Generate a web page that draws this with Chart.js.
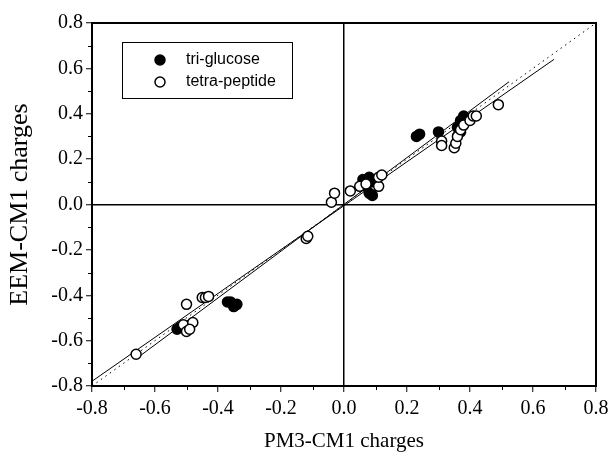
<!DOCTYPE html>
<html><head><meta charset="utf-8">
<script src="https://cdn.jsdelivr.net/npm/chart.js@4/dist/chart.umd.min.js"></script>
<style>html,body{margin:0;padding:0;background:#fff}#wrap{width:611px;height:455px}</style>
</head><body><div id="wrap"><canvas id="c" width="611" height="455"></canvas></div>
<script>
const seriesNames = ['tri-glucose', 'tetra-peptide'];
const triGlucoseX = [-0.53, -0.52, -0.37, -0.36, -0.35, -0.34, 0.06, 0.07, 0.08, 0.08, 0.09, 0.09, 0.23, 0.24, 0.30, 0.36, 0.37, 0.37, 0.38];
const triGlucoseY = [-0.55, -0.54, -0.43, -0.43, -0.45, -0.44, 0.11, 0.08, 0.12, 0.05, 0.04, 0.10, 0.30, 0.31, 0.32, 0.34, 0.32, 0.37, 0.39];
const tetraPeptideX = [-0.66, -0.51, -0.48, -0.50, -0.49, -0.50, -0.45, -0.44, -0.43, -0.12, -0.115, -0.04, -0.03, 0.02, 0.05, 0.07, 0.11, 0.11, 0.12, 0.31, 0.31, 0.35, 0.355, 0.36, 0.37, 0.38, 0.40, 0.41, 0.42, 0.49];
const tetraPeptideY = [-0.66, -0.53, -0.52, -0.56, -0.55, -0.44, -0.41, -0.41, -0.405, -0.15, -0.14, 0.01, 0.05, 0.06, 0.08, 0.09, 0.08, 0.12, 0.13, 0.28, 0.26, 0.25, 0.27, 0.30, 0.33, 0.35, 0.37, 0.39, 0.39, 0.44];
const fitLineX = [-0.8, 0.667];
const fitLineY = [-0.779, 0.640];
const fitLine2X = [-0.655, 0.524];
const fitLine2Y = [-0.675, 0.541];
const identityX = [-0.8, 0.8];
const identityY = [-0.8, 0.8];
const axisMin = -0.8, axisMax = 0.8, majorStep = 0.2, minorStep = 0.1;
const xTitle = 'PM3-CM1 charges';
const yTitle = 'EEM-CM1 charges';

const pts = (xs, ys) => xs.map((x, i) => ({x: x, y: ys[i]}));
const isZero = v => Math.abs(v) < 1e-9;
const serif = '"Liberation Serif", "Times New Roman", serif';

const framePlugin = {
  id: 'frame',
  afterDraw(chart) {
    const {ctx, chartArea: a, scales} = chart;
    ctx.save();
    ctx.strokeStyle = '#000';
    ctx.lineWidth = 2;
    ctx.strokeRect(a.left, a.top, a.right - a.left, a.bottom - a.top);
    // minor ticks
    ctx.lineWidth = 1;
    ctx.beginPath();
    for (let v = axisMin + minorStep; v < axisMax; v += majorStep) {
      const px = Math.round(scales.x.getPixelForValue(v)) + 0.5;
      ctx.moveTo(px, a.bottom); ctx.lineTo(px, a.bottom + 4);
      const py = Math.round(scales.y.getPixelForValue(v)) + 0.5;
      ctx.moveTo(a.left, py); ctx.lineTo(a.left - 4, py);
    }
    ctx.stroke();
    // legend
    const bx = 122, by = 42, bw = 170, bh = 56;
    ctx.lineWidth = 1;
    ctx.strokeRect(bx + 0.5, by + 0.5, bw, bh);
    ctx.font = '16px "Liberation Sans", Arial, sans-serif';
    ctx.textBaseline = 'middle';
    ctx.textAlign = 'left';
    const rows = [{ds: chart.data.datasets[1], y: by + 18}, {ds: chart.data.datasets[0], y: by + 40}];
    rows.forEach(r => {
      ctx.beginPath();
      ctx.arc(bx + 38, r.y, 5, 0, Math.PI * 2);
      ctx.fillStyle = r.ds.backgroundColor;
      ctx.fill();
      ctx.lineWidth = 1.5;
      ctx.strokeStyle = '#000';
      ctx.stroke();
      ctx.fillStyle = '#000';
      ctx.fillText(r.ds.label, bx + 64, r.y);
    });
    ctx.restore();
  }
};

new Chart(document.getElementById('c'), {
  type: 'scatter',
  data: {
    datasets: [
      {label: seriesNames[1], data: pts(tetraPeptideX, tetraPeptideY), backgroundColor: '#fff', borderColor: '#000', borderWidth: 1.5, pointRadius: 5, order: 0},
      {label: seriesNames[0], data: pts(triGlucoseX, triGlucoseY), backgroundColor: '#000', borderColor: '#000', borderWidth: 1.5, pointRadius: 5, order: 1},
      {label: 'fit', data: pts(fitLineX, fitLineY), showLine: true, pointRadius: 0, borderColor: '#000', borderWidth: 1, order: 3},
      {label: 'fit2', data: pts(fitLine2X, fitLine2Y), showLine: true, pointRadius: 0, borderColor: '#000', borderWidth: 1, order: 3},
      {label: 'y=x', data: pts(identityX, identityY), showLine: true, pointRadius: 0, borderColor: '#000', borderWidth: 1, borderDash: [1.5, 4], order: 3}
    ]
  },
  options: {
    responsive: false,
    animation: false,
    events: [],
    layout: {padding: {left: 0, top: 23, right: 15, bottom: 0}},
    plugins: {legend: {display: false}, tooltip: {enabled: false}},
    scales: {
      x: {
        type: 'linear', min: axisMin, max: axisMax,
        afterFit(s) { s.height = 69; s.paddingLeft = 0; s.paddingRight = 0; },
        border: {display: true, color: '#000', width: 2},
        grid: {
          color: c => (c.tick && isZero(c.tick.value)) ? '#000' : 'rgba(0,0,0,0)',
          lineWidth: 1.5, drawTicks: true, tickLength: 6, tickColor: '#000', tickWidth: 1
        },
        ticks: {stepSize: majorStep, padding: 5, color: '#000', font: {family: serif, size: 20},
          callback: v => (isZero(v) ? 0 : v).toFixed(1)},
        title: {display: true, text: xTitle, color: '#000', font: {family: serif, size: 21}, padding: {top: 0, bottom: 1}}
      },
      y: {
        type: 'linear', min: axisMin, max: axisMax,
        afterFit(s) { s.width = 92; s.paddingTop = 0; s.paddingBottom = 0; },
        border: {display: true, color: '#000', width: 2},
        grid: {
          color: c => (c.tick && isZero(c.tick.value)) ? '#000' : 'rgba(0,0,0,0)',
          lineWidth: 1.5, drawTicks: true, tickLength: 6, tickColor: '#000', tickWidth: 1
        },
        ticks: {stepSize: majorStep, padding: 3, color: '#000', font: {family: serif, size: 20},
          callback: v => (isZero(v) ? 0 : v).toFixed(1)},
        title: {display: true, text: yTitle, color: '#000', font: {family: serif, size: 26}, padding: {top: 5, bottom: 0}}
      }
    }
  },
  plugins: [framePlugin]
});
</script></body></html>
